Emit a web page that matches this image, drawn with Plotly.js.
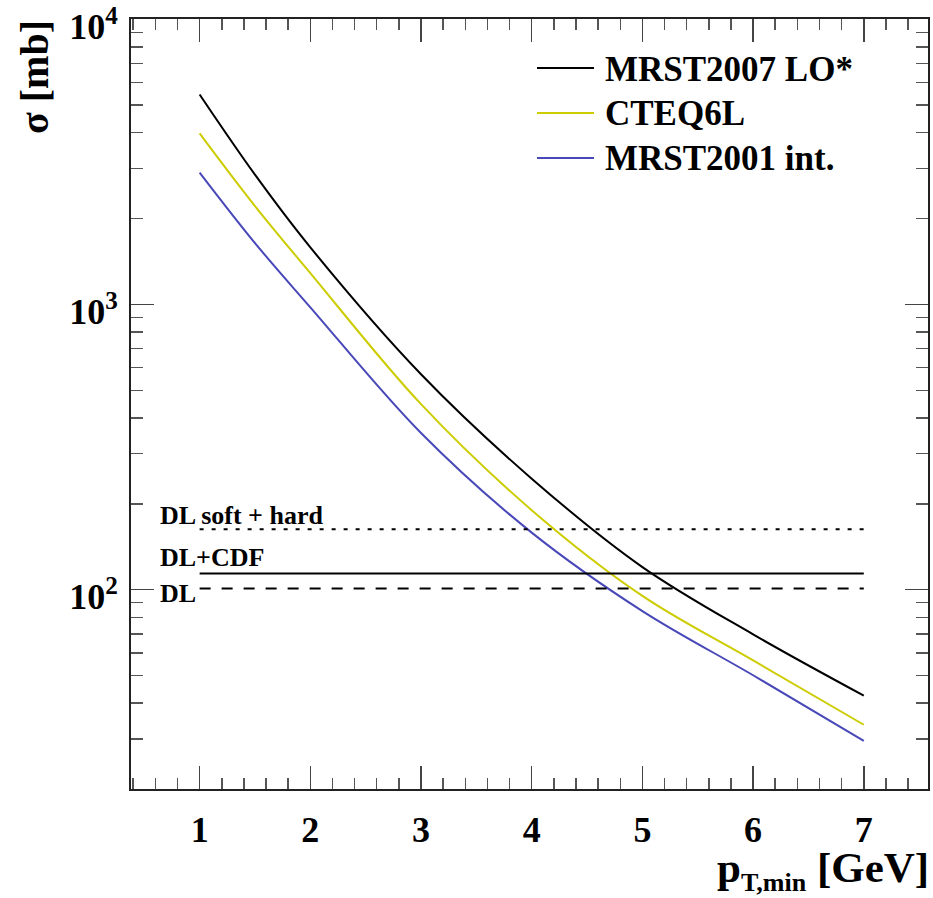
<!DOCTYPE html>
<html>
<head>
<meta charset="utf-8">
<script src="https://cdn.plot.ly/plotly-3.0.1.min.js"></script>
<style>html,body{margin:0;padding:0;background:#fff;}#chart{width:933px;height:898px;}</style>
</head>
<body>
<div id="chart"></div>
<script>
// ---- data ----
const ptMin = [1, 1.5, 2, 3, 4, 5, 6, 7];
const seriesNames = ['MRST2007 LO*', 'CTEQ6L', 'MRST2001 int.'];
const sigmaMRST2007 = [5445, 2850, 1585, 569, 245, 120, 69.7, 42.5];
const sigmaCTEQ6L = [3980, 2213, 1288, 447, 190, 95.1, 56.5, 33.6];
const sigmaMRST2001 = [2900, 1641, 977, 354, 158.5, 84.1, 50.1, 29.5];
const refLabels = ['DL soft + hard', 'DL+CDF', 'DL'];
const refValues = [163, 114, 101];
const refRange = [1, 7];
const xTickVals = [1, 2, 3, 4, 5, 6, 7];
const yTickVals = [100, 1000, 10000];
const yTickText = ['10<sup>2</sup>', '10<sup>3</sup>', '10<sup>4</sup>'];

// ---- styles ----
const colors = ['#000000', '#cccc00', '#4848b8'];
const refDash = ['4px,8px', 'solid', '11px,11px'];
const FONT = 'Liberation Serif, Times New Roman, serif';
const W = 933, H = 898, ML = 131, MR = 5, MT = 19, MB = 109;
const PW = W - ML - MR, PH = H - MT - MB;
const px = p => (p - ML) / PW;
const py = p => (H - MB - p) / PH;

const seriesData = [sigmaMRST2007, sigmaCTEQ6L, sigmaMRST2001];
const traces = seriesData.map((ys, i) => ({
  x: ptMin, y: ys, type: 'scatter', mode: 'lines', name: seriesNames[i],
  line: {color: colors[i], width: 2, shape: 'spline', smoothing: 1},
  showlegend: false, hoverinfo: 'x+y'
}));
refValues.forEach((v, i) => {
  traces.push({
    x: refRange, y: [v, v], type: 'scatter', mode: 'lines', name: refLabels[i],
    line: {color: '#000', width: 2, dash: refDash[i]}, showlegend: false
  });
});

const minorY = [];
for (let e = 1; e <= 3; e++) for (let d = 2; d <= 9; d++) minorY.push(d * Math.pow(10, e));

const annotations = [];
const shapes = [];
// legend (manual)
const legRows = [69, 114, 159];
seriesNames.forEach((n, i) => {
  shapes.push({type: 'line', xref: 'paper', yref: 'paper', x0: px(537), x1: px(594), y0: py(legRows[i] - 1), y1: py(legRows[i] - 1), line: {color: colors[i], width: 2}});
  annotations.push({xref: 'paper', yref: 'paper', x: px(603), y: py(legRows[i]), xanchor: 'left', yanchor: 'middle', showarrow: false, text: n, font: {family: FONT, size: 35, weight: 700, color: '#000'}});
});
// reference line labels
const refLabelY = [515, 557, 593];
refLabels.forEach((t, i) => {
  annotations.push({xref: 'paper', yref: 'paper', x: px(158), y: py(refLabelY[i]), xanchor: 'left', yanchor: 'middle', showarrow: false, text: t, font: {family: FONT, size: 26, weight: 700, color: '#000'}});
});
// axis titles
annotations.push({xref: 'paper', yref: 'paper', x: px(34), y: py(77), xanchor: 'center', yanchor: 'middle', textangle: -90, showarrow: false, text: 'σ [mb]', font: {family: FONT, size: 40, weight: 700, color: '#000'}});
annotations.push({xref: 'paper', yref: 'paper', x: px(931), y: py(871), xanchor: 'right', yanchor: 'middle', showarrow: false, text: 'p<sub><span style="font-size:26px">T,min</span></sub> [GeV]', font: {family: FONT, size: 43, weight: 700, color: '#000'}});

const axisCommon = {
  showgrid: false, zeroline: false, showline: true, linecolor: '#222', linewidth: 2,
  mirror: 'allticks', ticks: 'inside', ticklen: 23, tickwidth: 1.5, tickcolor: '#444',
  ticklabeloverflow: 'allow',
  tickfont: {family: FONT, size: 36, weight: 700, color: '#000'}
};

const layout = {
  width: W, height: H, margin: {l: ML, r: MR, t: MT, b: MB},
  paper_bgcolor: '#fff', plot_bgcolor: '#fff', showlegend: false,
  xaxis: Object.assign({}, axisCommon, {
    range: [0.38, 7.58], tickmode: 'array', tickvals: xTickVals, ticktext: xTickVals.map(String),
    ticklabelstandoff: 8,
    minor: {ticks: 'inside', ticklen: 11, tickwidth: 1.5, tickcolor: '#555', dtick: 0.2, tick0: 0, showgrid: false}
  }),
  yaxis: Object.assign({}, axisCommon, {
    type: 'log', range: [Math.log10(20), 4.0008], tickmode: 'array', tickvals: yTickVals, ticktext: yTickText,
    ticklabelstandoff: 4, ticklabelshift: 7,
    minor: {ticks: 'inside', ticklen: 12, tickwidth: 1.5, tickcolor: '#555', tickmode: 'array', tickvals: minorY, showgrid: false}
  }),
  annotations: annotations, shapes: shapes
};

Plotly.newPlot('chart', traces, layout, {displayModeBar: false, staticPlot: true});
</script>
</body>
</html>
